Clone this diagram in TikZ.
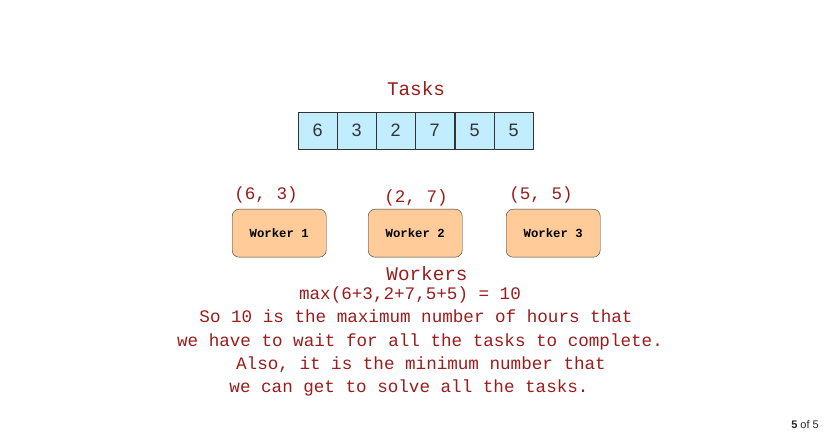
\documentclass[tikz,border=0pt]{standalone}
\usepackage{fontspec}
\setmainfont{Liberation Sans}
\newfontfamily\cour{Liberation Mono}
\definecolor{txtred}{HTML}{9C1C1C}
\definecolor{taskfill}{HTML}{C2EDFF}
\definecolor{workfill}{HTML}{FFCC99}
\definecolor{edge}{HTML}{333333}
\begin{document}
\begin{tikzpicture}[x=1pt,y=-1pt,
  title/.style={anchor=base,inner sep=0pt,text=txtred,font=\cour\fontsize{19.3}{22}\selectfont},
  body/.style={anchor=base,inner sep=0pt,text=txtred,font=\cour\fontsize{17.6}{21}\selectfont},
  taskbox/.style={draw=edge,fill=taskfill,minimum width=39pt,minimum height=37pt,inner sep=0pt,anchor=north west,font=\fontsize{18}{20}\selectfont,text=edge},
  workbox/.style={draw=edge,fill=workfill,rounded corners=7pt,minimum width=94pt,minimum height=48pt,inner sep=0pt,anchor=north west,font=\cour\bfseries\fontsize{12.3}{14}\selectfont}
]
\useasboundingbox (0,0) rectangle (824,435);
\fill[white] (0,0) rectangle (824,435);

\node[title] (tasks) at (416,96) {Tasks};
\node[taskbox] (t1) at (298,112) {6};
\node[taskbox] (t2) at (337,112) {3};
\node[taskbox] (t3) at (376,112) {2};
\node[taskbox] (t4) at (415,112) {7};
\node[taskbox] (t5) at (455,112) {5};
\node[taskbox] (t6) at (494,112) {5};

\node[body] (p1) at (266,200) {(6, 3)};
\node[body] (p2) at (416,203) {(2, 7)};
\node[body] (p3) at (541,200) {(5, 5)};

\node[workbox] (w1) at (232,209) {Worker 1};
\node[workbox] (w2) at (368,209) {Worker 2};
\node[workbox] (w3) at (506,209) {Worker 3};

\node[title] (workers) at (427,281) {Workers};
\node[body] (l1) at (410,300) {max(6+3,2+7,5+5) = 10};
\node[body] (l2) at (416,323) {So 10 is the maximum number of hours that};
\node[body] (l3) at (420,346) {we have to wait for all the tasks to complete.};
\node[body] (l4) at (421,369) {Also, it is the minimum number that};
\node[body] (l5) at (409,392) {we can get to solve all the tasks.};

\node[anchor=base east,inner sep=0pt,font=\fontsize{11}{13}\selectfont,text=black!85] (page) at (819,428) {\textbf{5} of 5};
\end{tikzpicture}
\end{document}
